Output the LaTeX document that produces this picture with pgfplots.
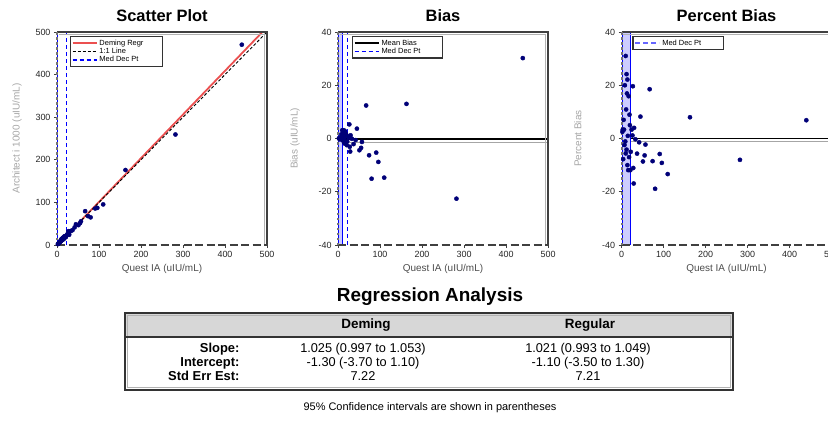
\documentclass[border=0pt]{standalone}
\usepackage{pgfplots}
\pgfplotsset{compat=1.18}
\usepackage{pgfplotstable}
\usepackage{fontspec}
\setmainfont{Liberation Sans}
\definecolor{mynavy}{RGB}{0,0,120}
\definecolor{regred}{RGB}{235,80,80}
\definecolor{bandfill}{RGB}{205,205,255}
\definecolor{hdrgray}{RGB}{215,215,215}

\pgfplotstableread{
x y bias pct
440 470.2 30.2 6.86
163 176.0 13.0 7.98
282 259.4 -22.6 -8.01
67 79.4 12.4 18.51
80 64.9 -15.1 -18.88
110 95.3 -14.7 -13.36
96 87.2 -8.8 -9.17
91 85.7 -5.3 -5.82
74 67.7 -6.3 -8.51
55 51.5 -3.5 -6.36
57 55.7 -1.3 -2.28
45 48.7 3.7 8.22
37 34.9 -2.1 -5.68
51 46.6 -4.4 -8.63
27 32.3 5.3 19.63
29 24.1 -4.9 -16.90
28 24.9 -3.1 -11.07
33 32.9 -0.1 -0.30
26 26.3 0.3 1.15
10 13.1 3.1 31.00
12 14.9 2.9 24.17
14 17.1 3.1 22.14
8 9.6 1.6 20.00
17 19.7 2.7 15.88
11 12.2 1.2 10.91
19 20.7 1.7 8.95
5 5.35 0.35 7.00
20 21.0 1.0 5.00
24 24.8 0.8 3.33
6 6.2 0.2 3.33
15 15.15 0.15 1.00
9 8.9 -0.1 -1.11
7 6.83 -0.17 -2.43
12 11.5 -0.5 -4.17
10 9.44 -0.56 -5.60
18 16.74 -1.26 -7.00
4 3.69 -0.31 -7.75
14 12.6 -1.4 -10.00
21 18.5 -2.5 -11.90
16 14.1 -1.9 -11.88
3 3.1 0.1 3.33
2 2.05 0.05 2.50
13 15.2 2.2 16.92
22 20.9 -1.1 -5.00
30 31.2 1.2 4.00
42 41.4 -0.6 -1.43
}\datatab

\begin{document}
\begin{tikzpicture}[x=1bp,y=1bp]
\pgfplotsset{
  panel/.style={
    scale only axis, width=210bp, height=213bp, anchor=south west,
    xmin=0, xmax=500, xtick={0,100,200,300,400,500},
    clip=false,
    axis line style={draw=none},
    xtick pos=bottom, ytick pos=left,
    tick align=outside, major tick length=3bp,
    tick style={black!75, line width=0.8bp},
    ticklabel style={font=\fontsize{9}{10}\selectfont, text=black!85},
    /pgf/number format/assume math mode=true,
    title style={font=\fontsize{16.5}{18}\selectfont\bfseries, at={(0.5,1)}, anchor=base, yshift=5bp},
    xlabel style={font=\fontsize{10}{11}\selectfont, text=black!70, at={(axis description cs:0.5,0)}, anchor=base, yshift=-26bp},
    ylabel style={font=\fontsize{10}{11}\selectfont, text=black!35, anchor=center},
    legend style={font=\fontsize{7.5}{8}\selectfont, draw=black!80, line width=1.3bp, anchor=north west, inner sep=1bp, row sep=-2.5bp, legend cell align=left, fill=white},
    legend image code/.code={\draw[#1] (0bp,0bp) -- (24bp,0bp);},
  },
  pts/.style={only marks, mark=*, mark size=2.1bp, mynavy, mark options={fill=mynavy, draw=mynavy}},
}
\newcommand{\panelframe}{%
  \draw[black!30, line width=1.2bp] ([xshift=1.5bp,yshift=-2.2bp]rel axis cs:0,1) -- ([xshift=-2.2bp,yshift=-2.2bp]rel axis cs:1,1) -- ([xshift=-2.2bp,yshift=1.5bp]rel axis cs:1,0);
  \draw[black!75, line width=1.6bp] (rel axis cs:0,1) -- (rel axis cs:1,1) -- (rel axis cs:1,0);
  \draw[black!75, line width=2bp, dash pattern=on 8bp off 3.5bp] (rel axis cs:0,0) -- (rel axis cs:1,0);
  \draw[black!55, line width=2bp, dash pattern=on 2.5bp off 2.5bp] (rel axis cs:0,0) -- (rel axis cs:0,1);
}

% ---------- Scatter plot ----------
\begin{axis}[panel, at={(57bp,176bp)}, ymin=0, ymax=500, ytick={0,100,200,300,400,500},
  title={Scatter Plot}, xlabel={Quest IA (uIU/mL)}, ylabel={Architect i 1000 (uIU/mL)},
  ylabel style={at={(axis description cs:-0.19,0.5)}},
  legend style={at={(0.062,0.981)}}]
\addplot[regred, line width=1.8bp] coordinates {(1.27,0) (489,500)};
\addlegendentry{\makebox[60bp][l]{Deming Regr}}
\addplot[black, line width=0.9bp, dash pattern=on 3bp off 2bp] coordinates {(0,0) (500,500)};
\addlegendentry{1:1 Line}
\addplot[blue, line width=1.3bp, dash pattern=on 4bp off 3bp] coordinates {(23,0) (23,500)};
\addlegendentry{Med Dec Pt}
\addplot[blue, line width=1.3bp, forget plot] coordinates {(2,0) (2,500)};
\addplot[pts, forget plot] table[x=x, y=y] {\datatab};
\panelframe
\end{axis}

% ---------- Bias ----------
\begin{axis}[panel, at={(338bp,176bp)}, ymin=-40, ymax=40, ytick={-40,-20,0,20,40},
  title={Bias}, xlabel={Quest IA (uIU/mL)}, ylabel={Bias (uIU/mL)},
  ylabel style={at={(axis description cs:-0.205,0.5)}},
  legend style={at={(0.067,0.981)}}]
\addplot[black!35, line width=1.2bp, forget plot] coordinates {(0,-1.4) (500,-1.4)};
\addplot[black, line width=1.8bp] coordinates {(0,-0.3) (500,-0.3)};
\addlegendentry{\makebox[58bp][l]{Mean Bias}}
\addplot[blue, line width=1.3bp, dash pattern=on 4bp off 3bp] coordinates {(23,-40) (23,40)};
\addlegendentry{Med Dec Pt}
\addplot[fill=bandfill, draw=none, forget plot] coordinates {(1,-40) (11,-40) (11,40) (1,40) (1,-40)};
\addplot[blue, line width=1.2bp, forget plot] coordinates {(1,-40) (1,40)};
\addplot[blue, line width=1.2bp, forget plot] coordinates {(11,-40) (11,40)};
\addplot[pts, forget plot] table[x=x, y=bias] {\datatab};
\panelframe
\end{axis}

% ---------- Percent Bias ----------
\begin{axis}[panel, at={(621.5bp,176bp)}, ymin=-40, ymax=40, ytick={-40,-20,0,20,40},
  title={Percent Bias}, xlabel={Quest IA (uIU/mL)}, ylabel={Percent Bias},
  ylabel style={at={(axis description cs:-0.208,0.5)}},
  legend style={at={(0.052,0.981)}}]
\addlegendimage{blue!60, line width=2.2bp, dash pattern=on 5bp off 3bp}
\addlegendentry{\makebox[58bp][l]{Med Dec Pt}}
\addplot[black!35, line width=1.2bp, forget plot] coordinates {(0,-1.1) (500,-1.1)};
\addplot[black, line width=1.2bp, forget plot] coordinates {(0,0) (500,0)};
\addplot[fill=bandfill, draw=none, forget plot] coordinates {(2,-40) (21,-40) (21,40) (2,40) (2,-40)};
\addplot[blue, line width=1.2bp, forget plot] coordinates {(2,-40) (2,40)};
\addplot[blue, line width=1.2bp, forget plot] coordinates {(21,-40) (21,40)};
\addplot[pts, forget plot] table[x=x, y=pct] {\datatab};
\panelframe
\end{axis}

% ---------- Regression table ----------
\node[font=\fontsize{19}{21}\selectfont\bfseries] at (430,124) {Regression Analysis};
\fill[hdrgray] (125,84) rectangle (733,108);
\draw[black!30, line width=1.2bp] (127.5,33.5) rectangle (730.5,105.5);
\draw[black!80, line width=1.8bp] (125,31) rectangle (733,108);
\draw[black!80, line width=1.4bp] (125,84) -- (733,84);
\node[font=\fontsize{13.5}{15}\selectfont\bfseries, anchor=mid] at (366,95) {Deming};
\node[font=\fontsize{13.5}{15}\selectfont\bfseries, anchor=mid] at (590,95) {Regular};
\begin{scope}[every node/.style={font=\fontsize{12.8}{14}\selectfont}]
\node[font=\fontsize{13}{14}\selectfont\bfseries, anchor=mid east] at (243,71) {Slope:};
\node[font=\fontsize{13}{14}\selectfont\bfseries, anchor=mid east] at (243,57) {Intercept:};
\node[font=\fontsize{13}{14}\selectfont\bfseries, anchor=mid east] at (243,43) {Std Err Est:};
\node[anchor=mid] at (363,71) {1.025 (0.997 to 1.053)};
\node[anchor=mid] at (363,57) {-1.30 (-3.70 to 1.10)};
\node[anchor=mid] at (363,43) {7.22};
\node[anchor=mid] at (588,71) {1.021 (0.993 to 1.049)};
\node[anchor=mid] at (588,57) {-1.10 (-3.50 to 1.30)};
\node[anchor=mid] at (588,43) {7.21};
\end{scope}
\node[font=\fontsize{11}{12}\selectfont, anchor=mid] at (430,13) {95\% Confidence intervals are shown in parentheses};

\pgfresetboundingbox
\path[use as bounding box] (0,0) rectangle (828,421);
\end{tikzpicture}
\end{document}
